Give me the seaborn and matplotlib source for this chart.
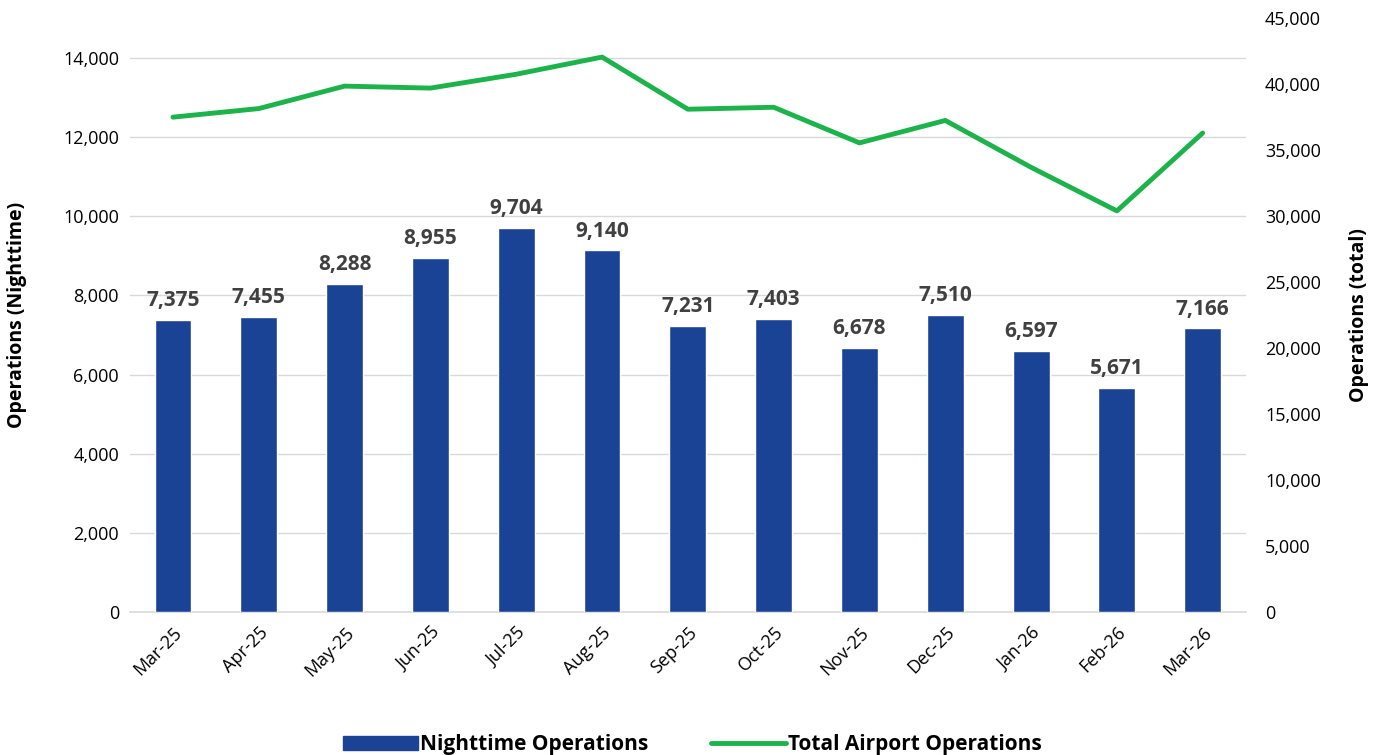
import numpy as np
import pandas as pd
import seaborn as sns
import matplotlib.pyplot as plt
from matplotlib.ticker import FuncFormatter, FixedLocator
from matplotlib.patches import Patch
from matplotlib.lines import Line2D

months = ['Mar-25', 'Apr-25', 'May-25', 'Jun-25', 'Jul-25', 'Aug-25', 'Sep-25',
          'Oct-25', 'Nov-25', 'Dec-25', 'Jan-26', 'Feb-26', 'Mar-26']
nighttime = [7375, 7455, 8288, 8955, 9704, 9140, 7231, 7403, 6678, 7510, 6597, 5671, 7166]
total = [37500, 38150, 39850, 39700, 40750, 42050, 38100, 38250, 35550, 37250, 33700, 30400, 36300]

bar_color = '#1a4396'
line_color = '#1db34b'

sns.set_style('white')
plt.rcParams['font.family'] = ['Open Sans', 'DejaVu Sans']
plt.rcParams['text.color'] = 'black'
plt.rcParams['xtick.color'] = 'black'
plt.rcParams['ytick.color'] = 'black'
plt.rcParams['axes.labelcolor'] = 'black'

df = pd.DataFrame({'month': months, 'night': nighttime, 'total': total})

fig = plt.figure(figsize=(13.84, 7.55), dpi=100)
ax = fig.add_axes([0.094, 0.189, 0.806, 0.787])

sns.barplot(data=df, x='month', y='night', color=bar_color, width=0.43,
            saturation=1, ax=ax, zorder=3)
for i, v in enumerate(nighttime):
    ax.text(i, v + 220, f'{v:,}', ha='center', va='bottom', fontsize=15,
            fontweight='bold', color='#404040')

ax.set_ylim(0, 15000)
ax.set_yticks(range(0, 15000, 2000))
ax.yaxis.set_major_formatter(FuncFormatter(lambda v, p: f'{int(v):,}'))
ax.grid(axis='y', color='#d9d9d9', linewidth=1, zorder=0)
ax.set_axisbelow(True)
ax.set_xlim(-0.5, len(months) - 0.5)
ax.set_xlabel('')
ax.set_ylabel('Operations (Nighttime)', fontsize=14, fontweight='bold', labelpad=26)
for s in ['top', 'right', 'left']:
    ax.spines[s].set_visible(False)
ax.spines['bottom'].set_color('#d9d9d9')
ax.spines['bottom'].set_linewidth(1.2)
ax.tick_params(axis='y', length=0, labelsize=13, pad=8)
ax.tick_params(axis='x', which='major', length=0, labelsize=13, pad=8)
ax.xaxis.set_minor_locator(FixedLocator(np.arange(-0.5, len(months), 1)))
ax.tick_params(axis='x', which='minor', length=6, color='#d9d9d9', width=1.2)
plt.setp(ax.get_xticklabels(), rotation=45, ha='right', rotation_mode='anchor')

ax2 = ax.twinx()
sns.lineplot(x=np.arange(len(months)), y=total, color=line_color, linewidth=3.5, ax=ax2)
ax2.set_ylim(0, 45000)
ax2.set_yticks(range(0, 45001, 5000))
ax2.yaxis.set_major_formatter(FuncFormatter(lambda v, p: f'{int(v):,}'))
ax2.set_ylabel('Operations (total)', fontsize=14, fontweight='bold', labelpad=20)
ax2.tick_params(axis='y', length=0, labelsize=13, pad=14)
for s in ['top', 'right', 'left', 'bottom']:
    ax2.spines[s].set_visible(False)
ax2.grid(False)

handles = [Patch(color=bar_color, label='Nighttime Operations'),
           Line2D([0], [0], color=line_color, linewidth=3.5, label='Total Airport Operations')]
fig.legend(handles=handles, loc='lower center', bbox_to_anchor=(0.5, -0.025), ncol=2,
           frameon=False, prop={'size': 15, 'weight': 'bold'}, handlelength=3.6,
           handletextpad=0.1, columnspacing=3)

fig.savefig('out.png', dpi=100)
